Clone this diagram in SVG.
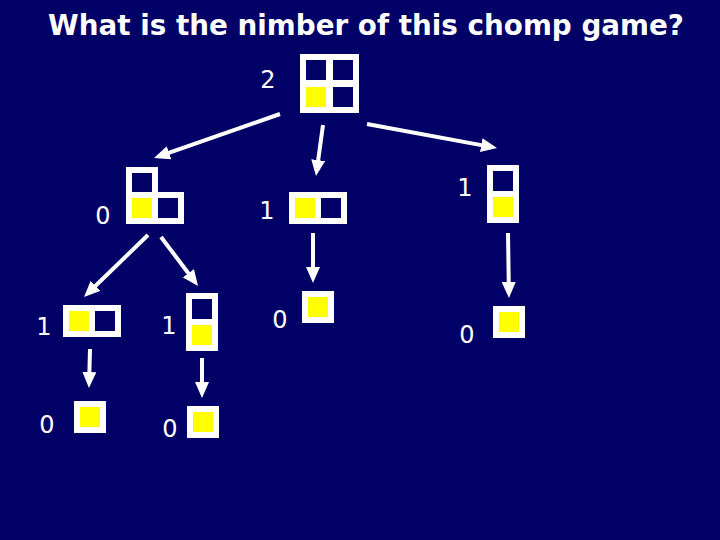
<svg xmlns="http://www.w3.org/2000/svg" width="720" height="540" viewBox="0 0 720 540">
<style>
.bg{fill:#000066}
.w{fill:#ffffff}
.d{fill:#000066}
.y{fill:#ffff00}
.lbl{font-family:"DejaVu Sans","Liberation Sans",sans-serif;font-size:24px;fill:#ffffff;text-anchor:middle}
.title{font-family:"DejaVu Sans","Liberation Sans",sans-serif;font-size:29px;font-weight:bold;fill:#ffffff}
.arr{stroke:#ffffff;stroke-width:4;fill:none;marker-end:url(#ah)}
</style>
<defs>
<marker id="ah" viewBox="0 0 16 14" refX="11" refY="7" markerWidth="16" markerHeight="14" markerUnits="userSpaceOnUse" orient="auto">
<path d="M0,0 L16,7 L0,14 z" fill="#ffffff"/>
</marker>
</defs>
<rect class="bg" x="0" y="0" width="720" height="540"/>
<text class="title" x="48" y="35" textLength="636" lengthAdjust="spacingAndGlyphs">What is the nimber of this chomp game?</text>

<g id="node-root">
<rect class="w" x="300" y="54" width="59" height="59"/>
<rect class="d" x="306" y="60" width="20" height="20"/>
<rect class="d" x="333" y="60" width="20" height="20"/>
<rect class="y" x="306" y="87" width="20" height="20"/>
<rect class="d" x="333" y="87" width="20" height="20"/>
<text class="lbl" x="268" y="88">2</text>
</g>

<g id="node-L">
<rect class="w" x="126" y="167" width="32" height="32"/>
<rect class="w" x="126" y="192" width="58" height="32"/>
<rect class="d" x="132" y="173" width="20" height="19"/>
<rect class="y" x="132" y="198" width="20" height="20"/>
<rect class="d" x="158" y="198" width="20" height="20"/>
<text class="lbl" x="103" y="224">0</text>
</g>

<g id="node-row2">
<rect class="w" x="289" y="192" width="58" height="32"/>
<rect class="y" x="295" y="198" width="20" height="20"/>
<rect class="d" x="321" y="198" width="20" height="20"/>
<text class="lbl" x="267" y="219">1</text>
</g>

<g id="node-col2">
<rect class="w" x="487" y="165" width="32" height="58"/>
<rect class="d" x="493" y="171" width="20" height="20"/>
<rect class="y" x="493" y="197" width="20" height="20"/>
<text class="lbl" x="465" y="196">1</text>
</g>

<g id="node-L-row2">
<rect class="w" x="63" y="305" width="58" height="32"/>
<rect class="y" x="69" y="311" width="20" height="20"/>
<rect class="d" x="95" y="311" width="20" height="20"/>
<text class="lbl" x="44" y="335">1</text>
</g>

<g id="node-L-col2">
<rect class="w" x="186" y="293" width="32" height="58"/>
<rect class="d" x="192" y="299" width="20" height="20"/>
<rect class="y" x="192" y="325" width="20" height="20"/>
<text class="lbl" x="169" y="334">1</text>
</g>

<g id="node-single-a">
<rect class="w" x="74" y="401" width="32" height="32"/>
<rect class="y" x="80" y="407" width="20" height="20"/>
<text class="lbl" x="47" y="433">0</text>
</g>

<g id="node-single-b">
<rect class="w" x="187" y="406" width="32" height="32"/>
<rect class="y" x="193" y="412" width="20" height="20"/>
<text class="lbl" x="170" y="437">0</text>
</g>

<g id="node-single-c">
<rect class="w" x="302" y="291" width="32" height="32"/>
<rect class="y" x="308" y="297" width="20" height="20"/>
<text class="lbl" x="280" y="328">0</text>
</g>

<g id="node-single-d">
<rect class="w" x="493" y="306" width="32" height="32"/>
<rect class="y" x="499" y="312" width="20" height="20"/>
<text class="lbl" x="467" y="343">0</text>
</g>

<g id="connectors">
<line class="arr" x1="280" y1="114" x2="158.7" y2="156.4"/>
<line class="arr" x1="323" y1="125" x2="316.7" y2="171"/>
<line class="arr" x1="367" y1="124" x2="492.1" y2="147.1"/>
<line class="arr" x1="148" y1="235" x2="87.6" y2="293.5"/>
<line class="arr" x1="161" y1="237" x2="195" y2="282"/>
<line class="arr" x1="90" y1="349" x2="89.1" y2="383"/>
<line class="arr" x1="202" y1="358" x2="202" y2="393"/>
<line class="arr" x1="313" y1="233" x2="313" y2="278"/>
<line class="arr" x1="508" y1="233" x2="508.9" y2="293"/>
</g>
</svg>
